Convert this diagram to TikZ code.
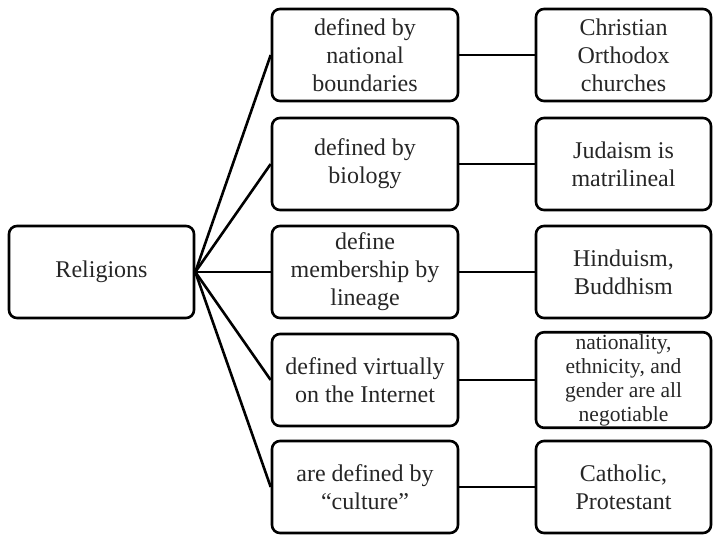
\documentclass[tikz,border=0pt]{standalone}
\usepackage{fontspec}
\setmainfont{Liberation Serif}
\begin{document}
\begin{tikzpicture}[x=1pt,y=-1pt,
  box/.style={draw=black, line width=2.6pt, rounded corners=8pt, align=center,
    inner sep=2pt, font=\fontsize{24}{28}\selectfont, text=black!85},
  midbox/.style={box, minimum width=186pt, minimum height=92pt},
  rightbox/.style={box, minimum width=175pt, minimum height=92pt},
  link/.style={line width=2.6pt, draw=black}]
\useasboundingbox (0,0) rectangle (717,535);
\node[box, minimum width=185pt, minimum height=92pt] (root) at (101.5,272) {Religions};
\node[midbox] (m1) at (365,55) {defined by\\national\\boundaries};
\node[midbox] (m2) at (365,164) {defined by\\biology};
\node[midbox] (m3) at (365,272) {define\\membership by\\lineage};
\node[midbox] (m4) at (365,380) {defined virtually\\on the Internet};
\node[midbox] (m5) at (365,487) {are defined by\\``culture''};
\node[rightbox] (r1) at (623.5,55) {Christian\\Orthodox\\churches};
\node[rightbox] (r2) at (623.5,164) {Judaism is\\matrilineal};
\node[rightbox] (r3) at (623.5,272) {Hinduism,\\Buddhism};
\node[rightbox, font=\fontsize{21.5}{24}\selectfont] (r4) at (623.5,380) {nationality,\\ethnicity, and\\gender are all\\negotiable};
\node[rightbox] (r5) at (623.5,487) {Catholic,\\Protestant};
\foreach \i in {1,...,5}{
  \draw[link] (root.east) -- (m\i.west);
  \draw[link] (m\i.east) -- (r\i.west);
}
\end{tikzpicture}
\end{document}
